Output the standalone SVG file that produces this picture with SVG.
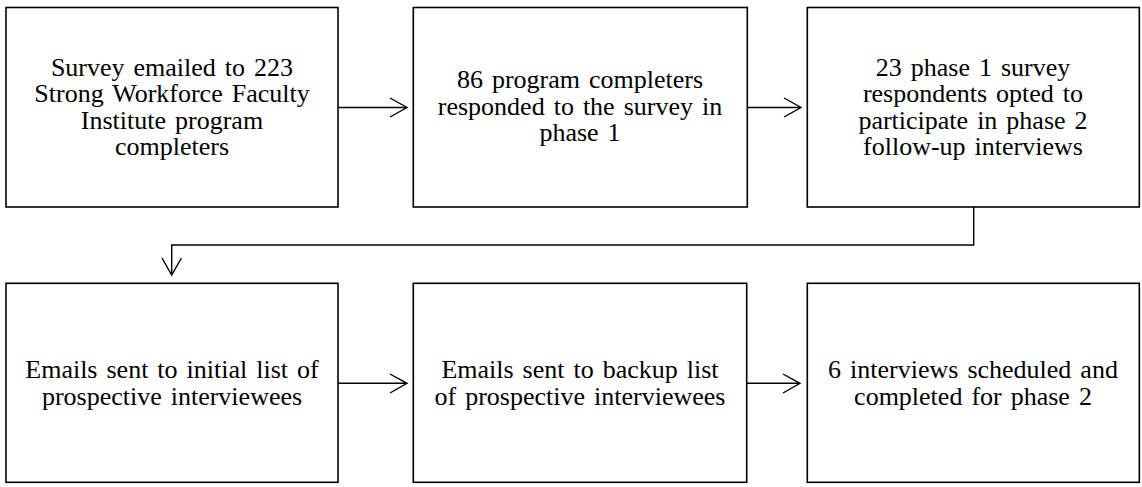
<svg xmlns="http://www.w3.org/2000/svg" width="1142" height="487" viewBox="0 0 1142 487">
<style>
.box{fill:#fff;stroke:#000;stroke-width:1.6}
.t{font-family:"Liberation Serif","Times New Roman",serif;font-size:26px;word-spacing:2.5px;fill:#000;text-anchor:middle}
.c{fill:none;stroke:#000;stroke-width:1.4}
</style>
<rect width="1142" height="487" fill="#fff"/>
<g id="n1"><rect class="box" x="6" y="7.5" width="332" height="199.5"/>
<text class="t"><tspan x="172" y="75.5">Survey emailed to 223</tspan><tspan x="172" y="102">Strong Workforce Faculty</tspan><tspan x="172" y="128.5">Institute program</tspan><tspan x="172" y="155">completers</tspan></text></g>
<g id="n2"><rect class="box" x="413.3" y="7.5" width="334" height="199.5"/>
<text class="t"><tspan x="580" y="88">86 program completers</tspan><tspan x="580" y="114.5">responded to the survey in</tspan><tspan x="580" y="141">phase 1</tspan></text></g>
<g id="n3"><rect class="box" x="807.3" y="7.5" width="332" height="199.5"/>
<text class="t"><tspan x="973" y="75.5">23 phase 1 survey</tspan><tspan x="973" y="102">respondents opted to</tspan><tspan x="973" y="128.5">participate in phase 2</tspan><tspan x="973" y="155">follow-up interviews</tspan></text></g>
<g id="n4"><rect class="box" x="6" y="283.3" width="332" height="199"/>
<text class="t"><tspan x="172" y="378.3">Emails sent to initial list of</tspan><tspan x="172" y="404.8">prospective interviewees</tspan></text></g>
<g id="n5"><rect class="box" x="413.3" y="283.3" width="333.4" height="199"/>
<text class="t"><tspan x="580" y="378.3">Emails sent to backup list</tspan><tspan x="580" y="404.8">of prospective interviewees</tspan></text></g>
<g id="n6"><rect class="box" x="807.3" y="283.3" width="332" height="199"/>
<text class="t"><tspan x="973" y="378.3">6 interviews scheduled and</tspan><tspan x="973" y="404.8">completed for phase 2</tspan></text></g>
<g id="connectors">
<path class="c" d="M338 107.5H407M390 98L407 107.5L390 117"/>
<path class="c" d="M747.3 107.5H801M784 98L801 107.5L784 117"/>
<path class="c" d="M973.7 207V245H171.7V275M162 258L171.7 275L181.4 258"/>
<path class="c" d="M338 383.3H407M390 374L407 383.3L390 393"/>
<path class="c" d="M746.7 383.3H800M783 374L800 383.3L783 393"/>
</g>
</svg>
